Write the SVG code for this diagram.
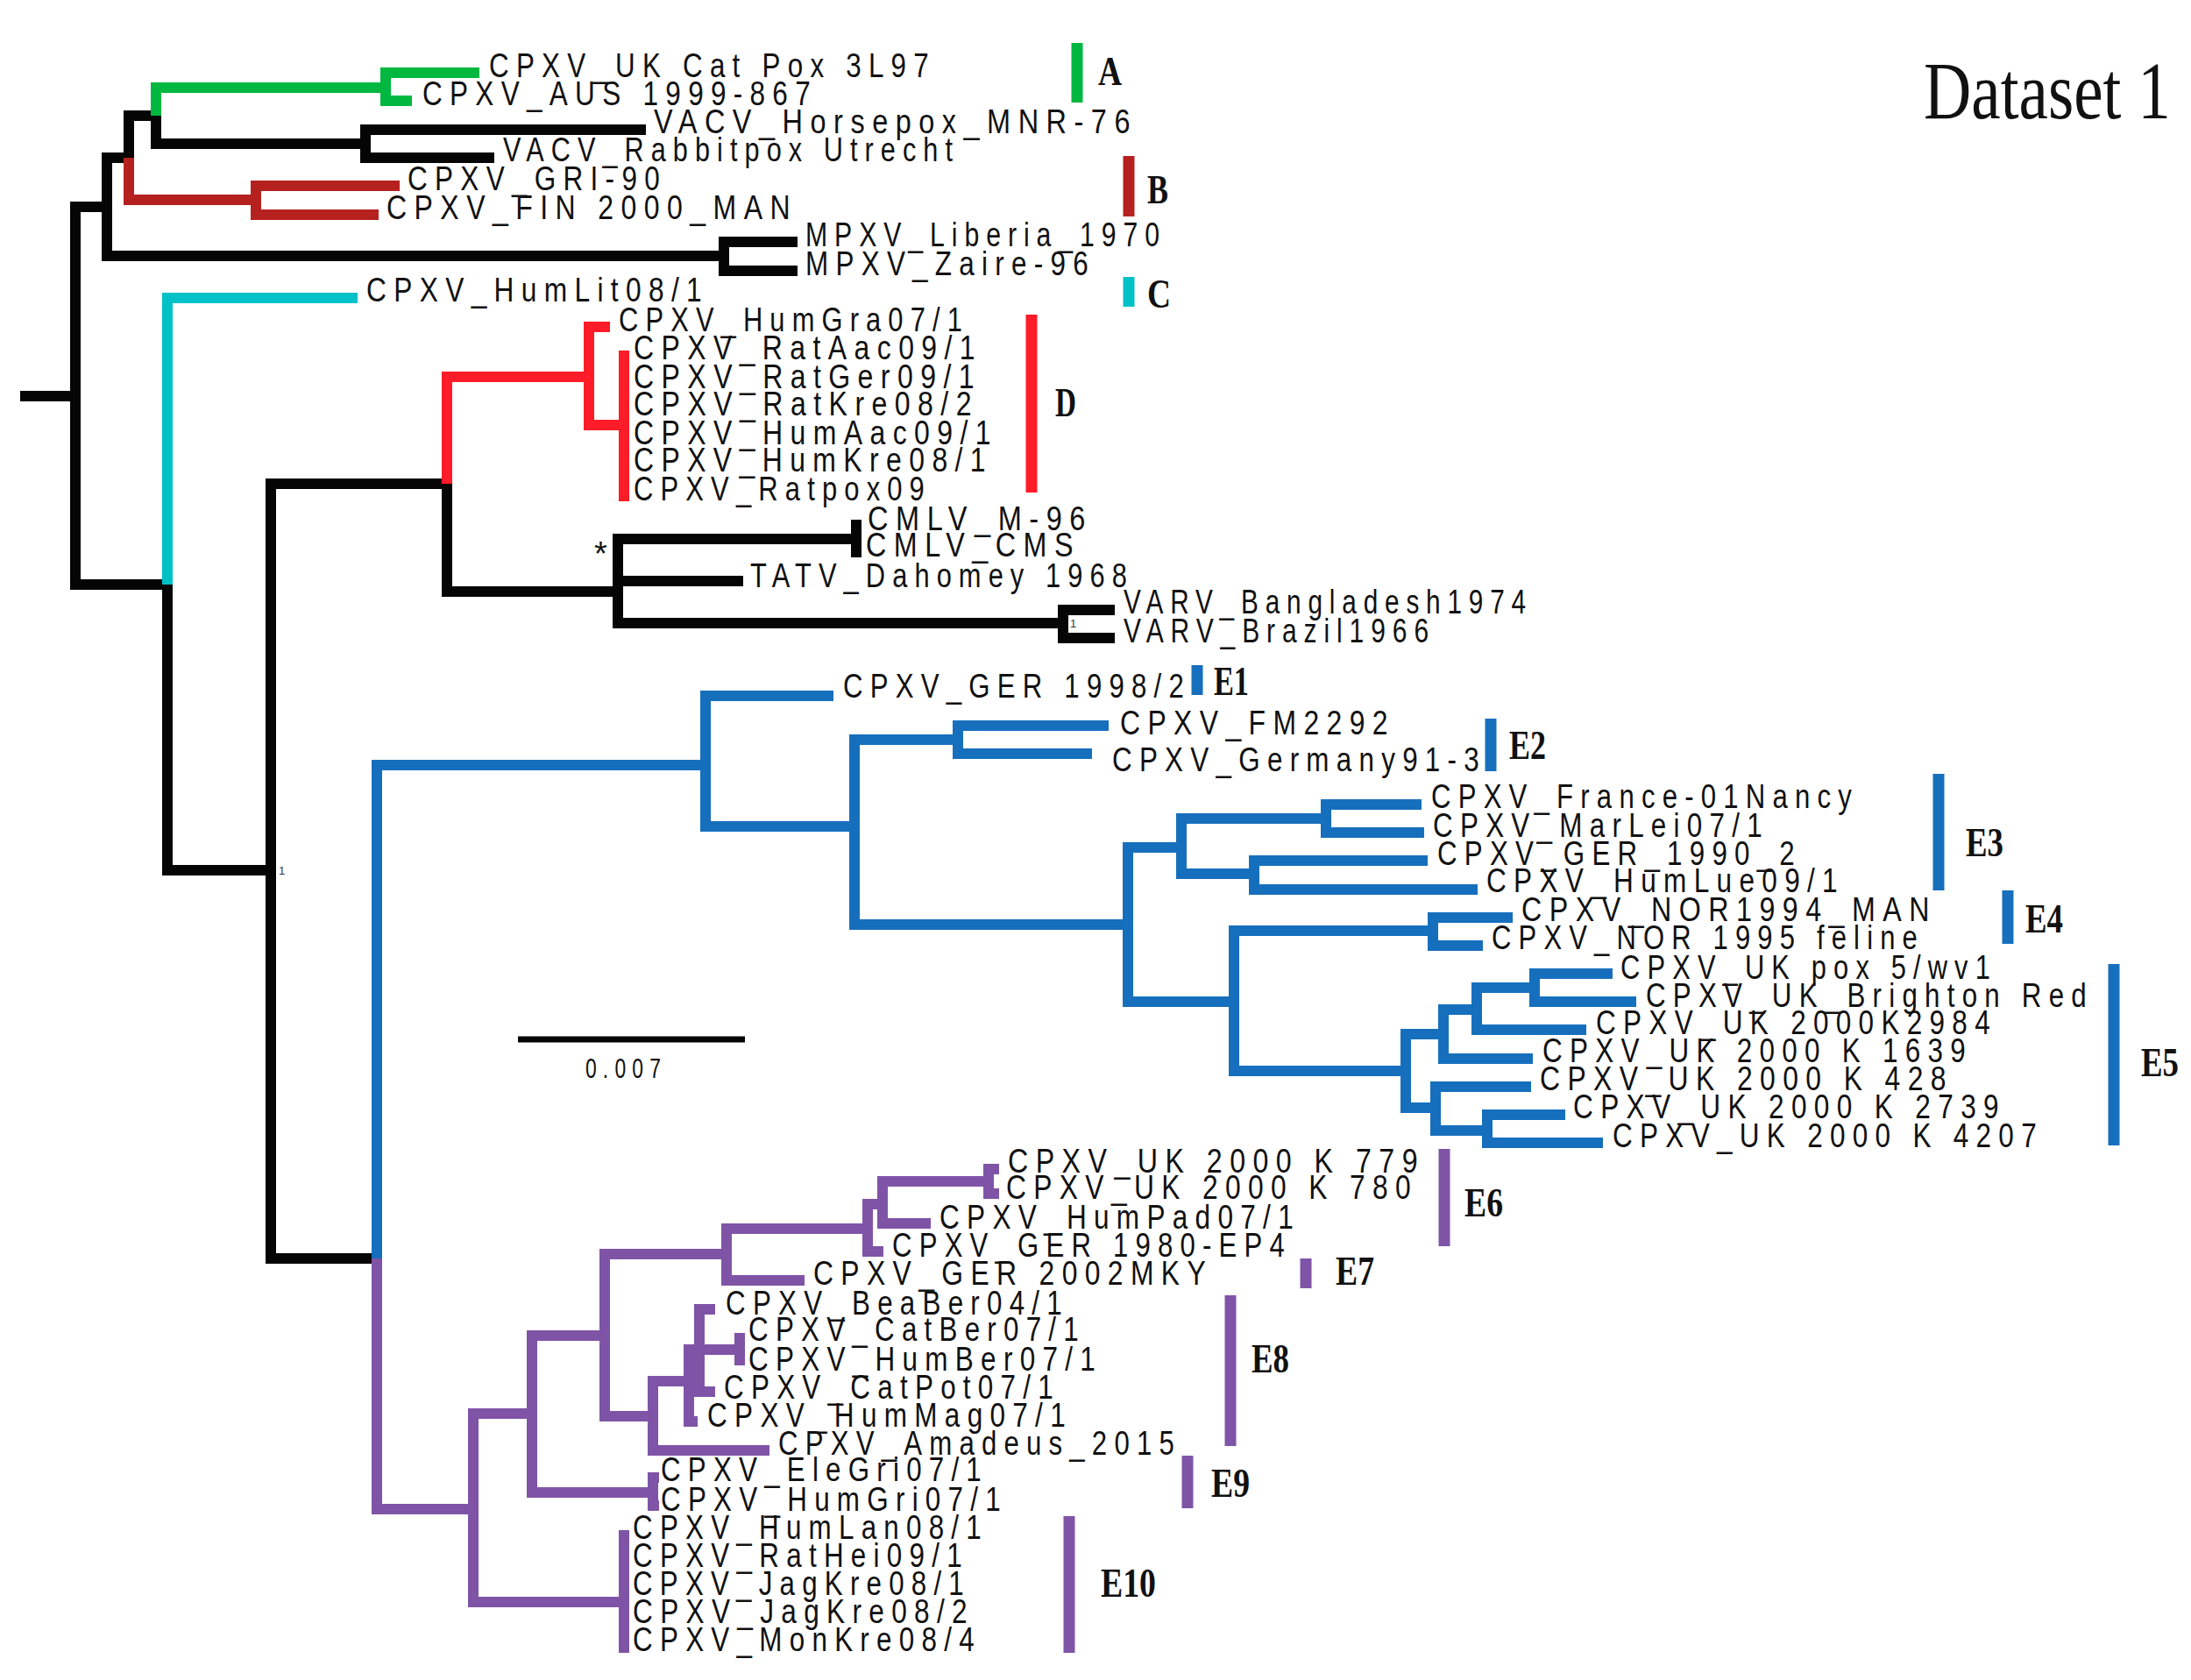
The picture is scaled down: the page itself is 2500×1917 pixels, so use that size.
<svg xmlns="http://www.w3.org/2000/svg" width="2500" height="1917" viewBox="0 0 2500 1917">
<style>
.br{fill:none;stroke-width:12;stroke-linecap:butt;stroke-linejoin:miter}
.k{stroke:#050505}.g{stroke:#00b83f}.m{stroke:#b5211f}.c{stroke:#00c1c7}.r{stroke:#fd1c27}.b{stroke:#166fbd}.p{stroke:#7f54a7}
.lb{font-family:"Liberation Sans",Arial,sans-serif;font-size:38px;letter-spacing:10px;fill:#111}
.cl{font-family:"Liberation Serif","Times New Roman",serif;font-weight:bold;font-size:46px;fill:#111}
.bar{stroke-width:13;fill:none}
.tiny{font-family:"Liberation Sans",Arial,sans-serif;font-size:13px;fill:#333}
</style>
<rect width="2500" height="1917" fill="#ffffff"/>
<g id="connectors">
<path class="br k" d="M23,452 H86 M122,236 H86 V452 M191,667 H86 V452 M147,180 H122 V236 M826,292 H122 V236 M178,132 H147 V180 M417,164 H178 V132 M737,148 H417 V164 M564,180 H417 V164 M910,276 H826 V292 M910,309 H826 V292 M309,993 H191 V667 M510,552 H309 V993 M430,1436 H309 V993 M705,675 H510 V552 M977,615 H705 V675 M848,663 H705 V675 M1213,711 H705 V675 M983,599 H977 V615 M983,630 H977 V615 M1272,696 H1213 V711 M1272,728 H1213 V711"/>
<path class="br g" d="M440,100 H178 V132 M547,83 H440 V100 M470,115 H440 V100"/>
<path class="br m" d="M292,228 H147 V180 M456,212 H292 V228 M432,245 H292 V228"/>
<path class="br c" d="M408,340 H191 V667"/>
<path class="br r" d="M672,430 H510 V552 M696,373 H672 V430 M712,485 H672 V430 M718,406 H712 V485 M718,437 H712 V485 M718,468 H712 V485 M718,500 H712 V485 M718,532 H712 V485 M718,566 H712 V485"/>
<path class="br b" d="M805,873 H430 V1436 M951,794 H805 V873 M975,943 H805 V873 M1093,844 H975 V943 M1287,1055 H975 V943 M1265,828 H1093 V844 M1246,860 H1093 V844 M1348,967 H1287 V1055 M1408,1143 H1287 V1055 M1513,934 H1348 V967 M1431,997 H1348 V967 M1622,918 H1513 V934 M1625,950 H1513 V934 M1629,982 H1431 V997 M1686,1015 H1431 V997 M1635,1062 H1408 V1143 M1604,1222 H1408 V1143 M1726,1047 H1635 V1062 M1692,1079 H1635 V1062 M1647,1180 H1604 V1222 M1638,1264 H1604 V1222 M1685,1152 H1647 V1180 M1749,1208 H1647 V1180 M1751,1127 H1685 V1152 M1810,1175 H1685 V1152 M1840,1111 H1751 V1127 M1867,1143 H1751 V1127 M1747,1240 H1638 V1264 M1697,1290 H1638 V1264 M1786,1272 H1697 V1290 M1829,1304 H1697 V1290"/>
<path class="br p" d="M540,1722 H430 V1436 M607,1613 H540 V1722 M712,1828 H540 V1722 M690,1524 H607 V1613 M745,1703 H607 V1613 M829,1431 H690 V1524 M745,1616 H690 V1524 M990,1402 H829 V1431 M918,1461 H829 V1431 M1007,1374 H990 V1402 M1008,1428 H990 V1402 M1128,1348 H1007 V1374 M1062,1396 H1007 V1374 M1140,1334 H1128 V1348 M1140,1362 H1128 V1348 M786,1576 H745 V1616 M878,1655 H745 V1616 M798,1540 H786 V1576 M796,1622 H786 V1576 M816,1494 H798 V1540 M844,1540 H798 M816,1588 H798 V1540 M850,1527 H844 V1540 M850,1552 H844 V1540 M752,1686 H745 V1703 M752,1718 H745 V1703 M718,1752 H712 V1828 M718,1784 H712 V1828 M718,1815 H712 V1828 M718,1847 H712 V1828 M718,1880 H712 V1828"/>
</g>
<g id="support-labels">
<text class="tiny" x="318" y="998">1</text>
<text class="tiny" x="1221" y="716">1</text>
<text class="lb" x="678" y="645" style="letter-spacing:0">*</text>
</g>
<g id="scale-bar">
<path d="M591,1186 H850" stroke="#050505" stroke-width="7"/>
<text class="lb" x="668" y="1230" style="font-size:32px" textLength="93" lengthAdjust="spacingAndGlyphs">0.007</text>
</g>
<g id="title"><text transform="translate(2195,135) scale(0.8,1)" x="0" y="0" style="font-family:'Liberation Serif','Times New Roman',serif;font-size:94px;fill:#111">Dataset 1</text></g>
<g id="taxa">
<g id="t01"><text class="lb" x="558" y="88" textLength="510" lengthAdjust="spacingAndGlyphs">CPXV_UK Cat Pox 3L97</text></g>
<g id="t02"><text class="lb" x="482" y="120" textLength="451" lengthAdjust="spacingAndGlyphs">CPXV_AUS 1999-867</text></g>
<g id="t03"><text class="lb" x="746" y="152" textLength="552" lengthAdjust="spacingAndGlyphs">VACV_Horsepox_MNR-76</text></g>
<g id="t04"><text class="lb" x="574" y="184" textLength="521" lengthAdjust="spacingAndGlyphs">VACV_Rabbitpox Utrecht</text></g>
<g id="t05"><text class="lb" x="465" y="217" textLength="296" lengthAdjust="spacingAndGlyphs">CPXV_GRI-90</text></g>
<g id="t06"><text class="lb" x="441" y="250" textLength="469" lengthAdjust="spacingAndGlyphs">CPXV_FIN 2000_MAN</text></g>
<g id="t07"><text class="lb" x="919" y="281" textLength="412" lengthAdjust="spacingAndGlyphs">MPXV_Liberia_1970</text></g>
<g id="t08"><text class="lb" x="919" y="314" textLength="331" lengthAdjust="spacingAndGlyphs">MPXV_Zaire-96</text></g>
<g id="t09"><text class="lb" x="418" y="344" textLength="391" lengthAdjust="spacingAndGlyphs">CPXV_HumLit08/1</text></g>
<g id="t10"><text class="lb" x="706" y="378" textLength="400" lengthAdjust="spacingAndGlyphs">CPXV_HumGra07/1</text></g>
<g id="t11"><text class="lb" x="723" y="410" textLength="398" lengthAdjust="spacingAndGlyphs">CPXV_RatAac09/1</text></g>
<g id="t12"><text class="lb" x="723" y="443" textLength="397" lengthAdjust="spacingAndGlyphs">CPXV_RatGer09/1</text></g>
<g id="t13"><text class="lb" x="723" y="474" textLength="394" lengthAdjust="spacingAndGlyphs">CPXV_RatKre08/2</text></g>
<g id="t14"><text class="lb" x="723" y="507" textLength="416" lengthAdjust="spacingAndGlyphs">CPXV_HumAac09/1</text></g>
<g id="t15"><text class="lb" x="723" y="538" textLength="410" lengthAdjust="spacingAndGlyphs">CPXV_HumKre08/1</text></g>
<g id="t16"><text class="lb" x="723" y="571" textLength="340" lengthAdjust="spacingAndGlyphs">CPXV_Ratpox09</text></g>
<g id="t17"><text class="lb" x="990" y="605" textLength="257" lengthAdjust="spacingAndGlyphs">CMLV_M-96</text></g>
<g id="t18"><text class="lb" x="988" y="635" textLength="245" lengthAdjust="spacingAndGlyphs">CMLV_CMS</text></g>
<g id="t19"><text class="lb" x="856" y="670" textLength="438" lengthAdjust="spacingAndGlyphs">TATV_Dahomey 1968</text></g>
<g id="t20"><text class="lb" x="1282" y="700" textLength="467" lengthAdjust="spacingAndGlyphs">VARV_Bangladesh1974</text></g>
<g id="t21"><text class="lb" x="1282" y="733" textLength="356" lengthAdjust="spacingAndGlyphs">VARV_Brazil1966</text></g>
<g id="t22"><text class="lb" x="962" y="796" textLength="397" lengthAdjust="spacingAndGlyphs">CPXV_GER 1998/2</text></g>
<g id="t23"><text class="lb" x="1278" y="838" textLength="314" lengthAdjust="spacingAndGlyphs">CPXV_FM2292</text></g>
<g id="t24"><text class="lb" x="1269" y="880" textLength="427" lengthAdjust="spacingAndGlyphs">CPXV_Germany91-3</text></g>
<g id="t25"><text class="lb" x="1633" y="922" textLength="488" lengthAdjust="spacingAndGlyphs">CPXV_France-01Nancy</text></g>
<g id="t26"><text class="lb" x="1635" y="955" textLength="384" lengthAdjust="spacingAndGlyphs">CPXV_MarLei07/1</text></g>
<g id="t27"><text class="lb" x="1640" y="987" textLength="416" lengthAdjust="spacingAndGlyphs">CPXV_GER_1990_2</text></g>
<g id="t28"><text class="lb" x="1696" y="1018" textLength="409" lengthAdjust="spacingAndGlyphs">CPXV_HumLue09/1</text></g>
<g id="t29"><text class="lb" x="1736" y="1051" textLength="474" lengthAdjust="spacingAndGlyphs">CPXV_NOR1994_MAN</text></g>
<g id="t30"><text class="lb" x="1702" y="1083" textLength="494" lengthAdjust="spacingAndGlyphs">CPXV_NOR 1995 feline</text></g>
<g id="t31"><text class="lb" x="1849" y="1117" textLength="430" lengthAdjust="spacingAndGlyphs">CPXV_UK pox 5/wv1</text></g>
<g id="t32"><text class="lb" x="1878" y="1149" textLength="511" lengthAdjust="spacingAndGlyphs">CPXV_UK_Brighton Red</text></g>
<g id="t33"><text class="lb" x="1821" y="1180" textLength="458" lengthAdjust="spacingAndGlyphs">CPXV_UK 2000K2984</text></g>
<g id="t34"><text class="lb" x="1760" y="1212" textLength="491" lengthAdjust="spacingAndGlyphs">CPXV_UK 2000 K 1639</text></g>
<g id="t35"><text class="lb" x="1757" y="1244" textLength="472" lengthAdjust="spacingAndGlyphs">CPXV_UK 2000 K 428</text></g>
<g id="t36"><text class="lb" x="1795" y="1276" textLength="494" lengthAdjust="spacingAndGlyphs">CPXV_UK 2000 K 2739</text></g>
<g id="t37"><text class="lb" x="1840" y="1309" textLength="492" lengthAdjust="spacingAndGlyphs">CPXV_UK 2000 K 4207</text></g>
<g id="t38"><text class="lb" x="1150" y="1338" textLength="476" lengthAdjust="spacingAndGlyphs">CPXV_UK 2000 K 779</text></g>
<g id="t39"><text class="lb" x="1148" y="1368" textLength="470" lengthAdjust="spacingAndGlyphs">CPXV_UK 2000 K 780</text></g>
<g id="t40"><text class="lb" x="1072" y="1402" textLength="412" lengthAdjust="spacingAndGlyphs">CPXV_HumPad07/1</text></g>
<g id="t41"><text class="lb" x="1018" y="1434" textLength="456" lengthAdjust="spacingAndGlyphs">CPXV_GER 1980-EP4</text></g>
<g id="t42"><text class="lb" x="928" y="1466" textLength="456" lengthAdjust="spacingAndGlyphs">CPXV_GER 2002MKY</text></g>
<g id="t43"><text class="lb" x="828" y="1500" textLength="392" lengthAdjust="spacingAndGlyphs">CPXV_BeaBer04/1</text></g>
<g id="t44"><text class="lb" x="854" y="1530" textLength="385" lengthAdjust="spacingAndGlyphs">CPXV_CatBer07/1</text></g>
<g id="t45"><text class="lb" x="854" y="1564" textLength="404" lengthAdjust="spacingAndGlyphs">CPXV_HumBer07/1</text></g>
<g id="t46"><text class="lb" x="826" y="1596" textLength="384" lengthAdjust="spacingAndGlyphs">CPXV_CatPot07/1</text></g>
<g id="t47"><text class="lb" x="807" y="1628" textLength="417" lengthAdjust="spacingAndGlyphs">CPXV_HumMag07/1</text></g>
<g id="t48"><text class="lb" x="888" y="1660" textLength="460" lengthAdjust="spacingAndGlyphs">CPXV_Amadeus_2015</text></g>
<g id="t49"><text class="lb" x="754" y="1690" textLength="374" lengthAdjust="spacingAndGlyphs">CPXV_EleGri07/1</text></g>
<g id="t50"><text class="lb" x="754" y="1724" textLength="396" lengthAdjust="spacingAndGlyphs">CPXV_HumGri07/1</text></g>
<g id="t51"><text class="lb" x="722" y="1756" textLength="406" lengthAdjust="spacingAndGlyphs">CPXV_HumLan08/1</text></g>
<g id="t52"><text class="lb" x="722" y="1788" textLength="384" lengthAdjust="spacingAndGlyphs">CPXV_RatHei09/1</text></g>
<g id="t53"><text class="lb" x="722" y="1820" textLength="386" lengthAdjust="spacingAndGlyphs">CPXV_JagKre08/1</text></g>
<g id="t54"><text class="lb" x="722" y="1852" textLength="390" lengthAdjust="spacingAndGlyphs">CPXV_JagKre08/2</text></g>
<g id="t55"><text class="lb" x="722" y="1884" textLength="398" lengthAdjust="spacingAndGlyphs">CPXV_MonKre08/4</text></g>
</g>
<g id="clades">
<g id="cladeA"><path class="bar g" d="M1229,49 V117"/><text class="cl" x="1253" y="97" textLength="27" lengthAdjust="spacingAndGlyphs">A</text></g>
<g id="cladeB"><path class="bar m" d="M1288,178 V247"/><text class="cl" x="1309" y="232" textLength="24" lengthAdjust="spacingAndGlyphs">B</text></g>
<g id="cladeC"><path class="bar c" d="M1288,316 V350"/><text class="cl" x="1309" y="351" textLength="27" lengthAdjust="spacingAndGlyphs">C</text></g>
<g id="cladeD"><path class="bar r" d="M1177,359 V562"/><text class="cl" x="1204" y="475" textLength="24" lengthAdjust="spacingAndGlyphs">D</text></g>
<g id="cladeE1"><path class="bar b" d="M1366,759 V793"/><text class="cl" x="1385" y="793" textLength="40" lengthAdjust="spacingAndGlyphs">E1</text></g>
<g id="cladeE2"><path class="bar b" d="M1701,820 V880"/><text class="cl" x="1722" y="866" textLength="42" lengthAdjust="spacingAndGlyphs">E2</text></g>
<g id="cladeE3"><path class="bar b" d="M2212,883 V1016"/><text class="cl" x="2243" y="977" textLength="43" lengthAdjust="spacingAndGlyphs">E3</text></g>
<g id="cladeE4"><path class="bar b" d="M2291,1016 V1077"/><text class="cl" x="2311" y="1064" textLength="43" lengthAdjust="spacingAndGlyphs">E4</text></g>
<g id="cladeE5"><path class="bar b" d="M2412,1100 V1307"/><text class="cl" x="2443" y="1228" textLength="43" lengthAdjust="spacingAndGlyphs">E5</text></g>
<g id="cladeE6"><path class="bar p" d="M1648,1311 V1422"/><text class="cl" x="1671" y="1388" textLength="44" lengthAdjust="spacingAndGlyphs">E6</text></g>
<g id="cladeE7"><path class="bar p" d="M1490,1436 V1470"/><text class="cl" x="1524" y="1466" textLength="44" lengthAdjust="spacingAndGlyphs">E7</text></g>
<g id="cladeE8"><path class="bar p" d="M1404,1478 V1650"/><text class="cl" x="1428" y="1566" textLength="43" lengthAdjust="spacingAndGlyphs">E8</text></g>
<g id="cladeE9"><path class="bar p" d="M1355,1661 V1721"/><text class="cl" x="1382" y="1708" textLength="44" lengthAdjust="spacingAndGlyphs">E9</text></g>
<g id="cladeE10"><path class="bar p" d="M1220,1730 V1886"/><text class="cl" x="1256" y="1822" textLength="63" lengthAdjust="spacingAndGlyphs">E10</text></g>
</g>
</svg>
